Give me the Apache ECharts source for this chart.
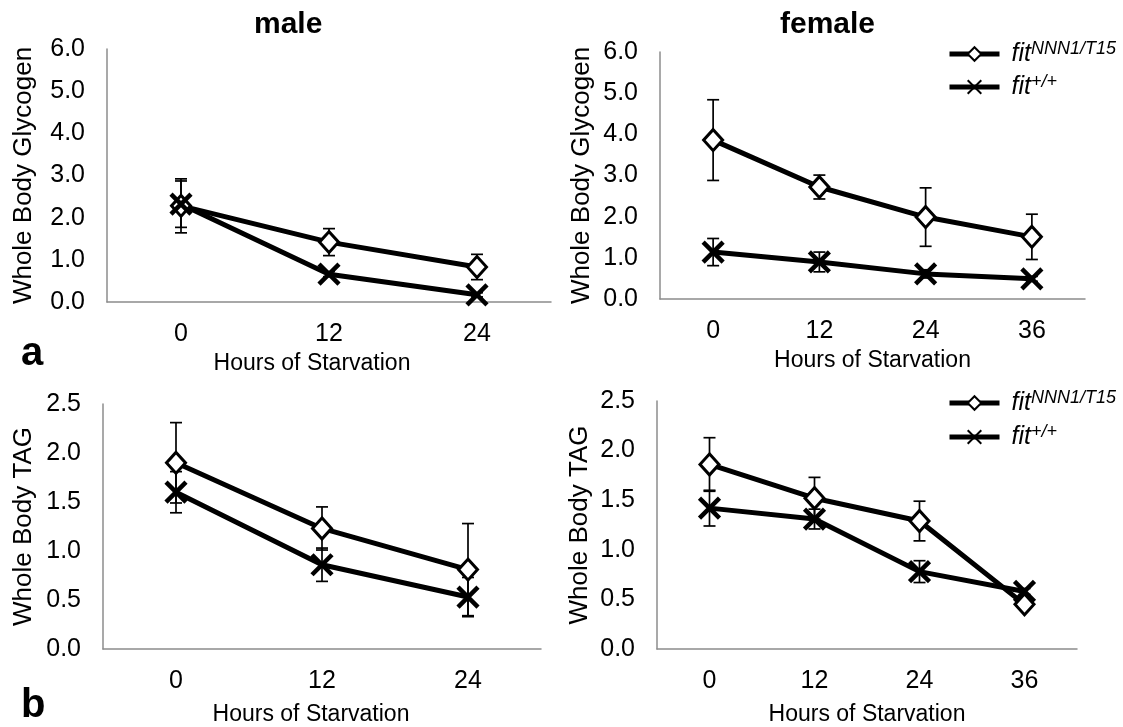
<!DOCTYPE html>
<html><head><meta charset="utf-8">
<script src="https://cdn.jsdelivr.net/npm/echarts@6/dist/echarts.min.js"></script>
<style>html,body{margin:0;padding:0;background:#fff}#c{width:1123px;height:727px}</style>
</head><body><div id="c"></div>
<script>
const catMale = ['0', '12', '24'];
const catFemale = ['0', '12', '24', '36'];
const nameMut = 'fitNNN1/T15';
const nameWt = 'fit+/+';

// Glycogen, male
const glyMaleMut = [2.28, 1.42, 0.83];
const glyMaleMutErr = [0.64, 0.32, 0.30];
const glyMaleWt = [2.32, 0.66, 0.17];
const glyMaleWtErr = [0.55, 0.06, 0.05];
// Glycogen, female
const glyFemMut = [3.86, 2.72, 1.99, 1.51];
const glyFemMutErr = [0.98, 0.29, 0.71, 0.55];
const glyFemWt = [1.14, 0.90, 0.61, 0.49];
const glyFemWtErr = [0.33, 0.24, 0.10, 0.06];
// TAG, male
const tagMaleMut = [1.90, 1.23, 0.81];
const tagMaleMutErr = [0.41, 0.22, 0.47];
const tagMaleWt = [1.60, 0.86, 0.53];
const tagMaleWtErr = [0.21, 0.17, 0.20];
// TAG, female
const tagFemMut = [1.86, 1.52, 1.29, 0.45];
const tagFemMutErr = [0.27, 0.21, 0.20, 0.03];
const tagFemWt = [1.42, 1.31, 0.78, 0.58];
const tagFemWtErr = [0.18, 0.10, 0.11, 0.03];

const glyTicks = {min: 0, max: 6, interval: 1};
const tagTicks = {min: 0, max: 2.5, interval: 0.5};

const FONT = 'Liberation Sans, Arial, sans-serif';
const AX = '#8c8c8c';

const chart = echarts.init(document.getElementById('c'), null, {renderer: 'canvas'});

const grids = [
  {left: 107, top: 49, width: 444, height: 253},
  {left: 660, top: 52, width: 425, height: 247},
  {left: 103, top: 404, width: 438, height: 247},
  {left: 657, top: 401, width: 420, height: 248}
];

function xAx(i, cats, padRight, gap) {
  return {
    type: 'category', gridIndex: i, data: cats, boundaryGap: true,
    axisLine: {lineStyle: {color: AX, width: 1.5}},
    axisTick: {show: false},
    axisLabel: {color: '#000', fontSize: 25, fontFamily: FONT, margin: 20},
    name: 'Hours of Starvation', nameLocation: 'middle', nameGap: gap,
    nameTextStyle: {color: '#000', fontSize: 23, fontFamily: FONT, padding: [0, padRight, 0, 0]}
  };
}
function yAx(i, t, name, gap) {
  return {
    type: 'value', gridIndex: i, min: t.min, max: t.max, interval: t.interval,
    axisLine: {show: true, lineStyle: {color: AX, width: 1.5}},
    axisTick: {show: false}, splitLine: {show: false},
    axisLabel: {color: '#000', fontSize: 25, fontFamily: FONT, margin: 22,
      formatter: v => v.toFixed(1)},
    name: name, nameLocation: 'middle', nameGap: gap, nameRotate: 90,
    nameTextStyle: {color: '#000', fontSize: 26, fontFamily: FONT}
  };
}

const xMark = 'path://M0,0L10,10M10,0L0,10';

function lineSeries(i, name, data, isMut) {
  return {
    type: 'line', name: name, xAxisIndex: i, yAxisIndex: i, data: data,
    lineStyle: {color: '#000', width: 5},
    symbol: isMut ? 'diamond' : xMark,
    symbolSize: isMut ? [19, 21] : 20,
    showAllSymbol: true,
    itemStyle: isMut ? {color: '#fff', borderColor: '#000', borderWidth: 3}
                     : {color: 'none', borderColor: '#000', borderWidth: 4.5},
    z: 3, animation: false
  };
}
function errSeries(i, vals, errs) {
  const d = vals.map((v, k) => [k, v - errs[k], v + errs[k]]);
  return {
    type: 'custom', name: 'err' + i, xAxisIndex: i, yAxisIndex: i, data: d, z: 2,
    silent: true, animation: false,
    renderItem: function (params, api) {
      const x = api.value(0);
      const lo = api.coord([x, api.value(1)]);
      const hi = api.coord([x, api.value(2)]);
      const w = 6;
      const st = {stroke: '#000', lineWidth: 1.7};
      return {type: 'group', children: [
        {type: 'line', shape: {x1: lo[0], y1: lo[1], x2: hi[0], y2: hi[1]}, style: st},
        {type: 'line', shape: {x1: lo[0] - w, y1: lo[1], x2: lo[0] + w, y2: lo[1]}, style: st},
        {type: 'line', shape: {x1: hi[0] - w, y1: hi[1], x2: hi[0] + w, y2: hi[1]}, style: st}
      ]};
    }
  };
}

function legend(name, top) {
  return {
    data: [name], left: 942, top: top,
    itemWidth: 50, itemHeight: 17,
    lineStyle: {width: 5, color: '#000'},
    formatter: function (n) {
      return n === nameMut ? '{a|fit}{b|NNN1/T15}' : '{a|fit}{b|+/+}';
    },
    textStyle: {
      rich: {
        a: {fontSize: 25, fontStyle: 'italic', fontFamily: FONT, color: '#000', padding: [0, 0, 0, 7]},
        b: {fontSize: 18, fontStyle: 'italic', fontFamily: FONT, color: '#000', padding: [0, 0, 10, 0]}
      }
    }
  };
}

const option = {
  backgroundColor: '#fff',
  animation: false,
  grid: grids,
  xAxis: [xAx(0, catMale, 34, 50), xAx(1, catFemale, 0, 50), xAx(2, catMale, 22, 54), xAx(3, catFemale, 0, 54)],
  yAxis: [yAx(0, glyTicks, 'Whole Body Glycogen', 70), yAx(1, glyTicks, 'Whole Body Glycogen', 65),
          yAx(2, tagTicks, 'Whole Body TAG', 66), yAx(3, tagTicks, 'Whole Body TAG', 64)],
  legend: [legend(nameMut, 35), legend(nameWt, 68), legend(nameMut, 384), legend(nameWt, 418)],
  series: [
    errSeries(0, glyMaleMut, glyMaleMutErr), errSeries(0, glyMaleWt, glyMaleWtErr),
    lineSeries(0, nameMut, glyMaleMut, true), lineSeries(0, nameWt, glyMaleWt, false),
    errSeries(1, glyFemMut, glyFemMutErr), errSeries(1, glyFemWt, glyFemWtErr),
    lineSeries(1, nameMut, glyFemMut, true), lineSeries(1, nameWt, glyFemWt, false),
    errSeries(2, tagMaleMut, tagMaleMutErr), errSeries(2, tagMaleWt, tagMaleWtErr),
    lineSeries(2, nameMut, tagMaleMut, true), lineSeries(2, nameWt, tagMaleWt, false),
    errSeries(3, tagFemMut, tagFemMutErr), errSeries(3, tagFemWt, tagFemWtErr),
    lineSeries(3, nameMut, tagFemMut, true), lineSeries(3, nameWt, tagFemWt, false)
  ],
  graphic: [
    {type: 'text', left: 254, top: 10, style: {text: 'male', font: 'bold 30px ' + FONT, fill: '#000'}},
    {type: 'text', left: 780, top: 10, style: {text: 'female', font: 'bold 30px ' + FONT, fill: '#000'}},
    {type: 'text', left: 21, top: 334, style: {text: 'a', font: 'bold 40px ' + FONT, fill: '#000'}},
    {type: 'text', left: 21, top: 686, style: {text: 'b', font: 'bold 40px ' + FONT, fill: '#000'}}
  ]
};
chart.setOption(option);
</script>
</body></html>
